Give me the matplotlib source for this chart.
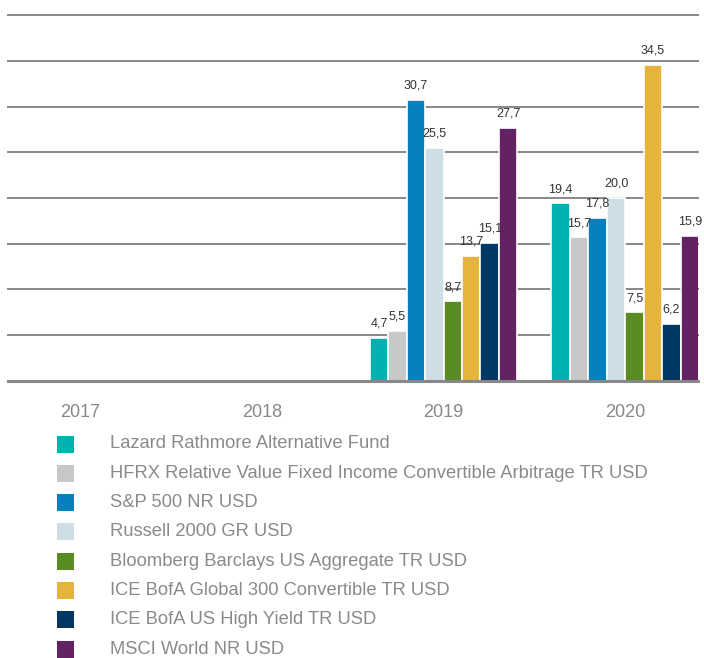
import matplotlib
matplotlib.use("Agg")
import matplotlib.pyplot as plt
from matplotlib.patches import Rectangle
import numpy as np

plt.rcParams['font.family'] = ['Liberation Sans', 'DejaVu Sans']

years = ["2017", "2018", "2019", "2020"]
series_names = [
    "Lazard Rathmore Alternative Fund",
    "HFRX Relative Value Fixed Income Convertible Arbitrage TR USD",
    "S&P 500 NR USD",
    "Russell 2000 GR USD",
    "Bloomberg Barclays US Aggregate TR USD",
    "ICE BofA Global 300 Convertible TR USD",
    "ICE BofA US High Yield TR USD",
    "MSCI World NR USD",
]
lazard = [np.nan, np.nan, 4.7, 19.4]
hfrx = [np.nan, np.nan, 5.5, 15.7]
sp500 = [np.nan, np.nan, 30.7, 17.8]
russell = [np.nan, np.nan, 25.5, 20.0]
bloomberg = [np.nan, np.nan, 8.7, 7.5]
ice_conv = [np.nan, np.nan, 13.7, 34.5]
ice_hy = [np.nan, np.nan, 15.1, 6.2]
msci = [np.nan, np.nan, 27.7, 15.9]
series_values = [lazard, hfrx, sp500, russell, bloomberg, ice_conv, ice_hy, msci]
colors = ["#00B2AF", "#C8C8C8", "#0680BE", "#CFDDE7", "#5B8C23", "#E6B33E", "#003763", "#632263"]

fig = plt.figure(figsize=(7.04, 6.58), dpi=100)
ax = fig.add_axes([8/704, 1-381/658, 690/704, 366/658])

n = len(series_names)
w = 0.1016
x = np.arange(len(years))
for i, (vals, c) in enumerate(zip(series_values, colors)):
    pos = x + (i - (n - 1) / 2) * w
    ax.bar(pos, vals, width=w, color=c, edgecolor="white", linewidth=1.2, zorder=3)
    for p, v in zip(pos, vals):
        if not np.isnan(v):
            ax.annotate(f"{v:.1f}".replace(".", ","), (p, v), xytext=(0, 6),
                        textcoords="offset points", ha="center", va="bottom",
                        fontsize=9, color="#333333", zorder=5)

ax.set_ylim(0, 40)
ax.set_xlim(-0.396, 3.4)
ax.set_yticks(np.arange(0, 41, 5))
ax.yaxis.grid(True, color="#888888", linewidth=1.4, zorder=0)
for gl in ax.get_ygridlines():
    gl.set_clip_on(False)
ax.set_axisbelow(True)
for s in ["left", "right", "top"]:
    ax.spines[s].set_visible(False)
ax.spines["bottom"].set_color("#888888")
ax.spines["bottom"].set_linewidth(2.2)
ax.spines["bottom"].set_zorder(4)
ax.tick_params(axis="y", left=False, labelleft=False)
ax.tick_params(axis="x", bottom=False, pad=13, labelsize=13, labelcolor="#888888")
ax.set_xticks(x)
ax.set_xticklabels(years)

# legend
row0 = 444
step = 29.3
for i, (name, c) in enumerate(zip(series_names, colors)):
    yc = row0 + i * step
    fig.patches.append(Rectangle((57/704, 1 - (yc + 8.5)/658), 17/704, 17/658,
                                 transform=fig.transFigure, facecolor=c, edgecolor="none"))
    fig.text(110/704, 1 - yc/658, name, ha="left", va="center", fontsize=13.2,
             color="#8a8a8a")

fig.savefig("out.png", dpi=100)
